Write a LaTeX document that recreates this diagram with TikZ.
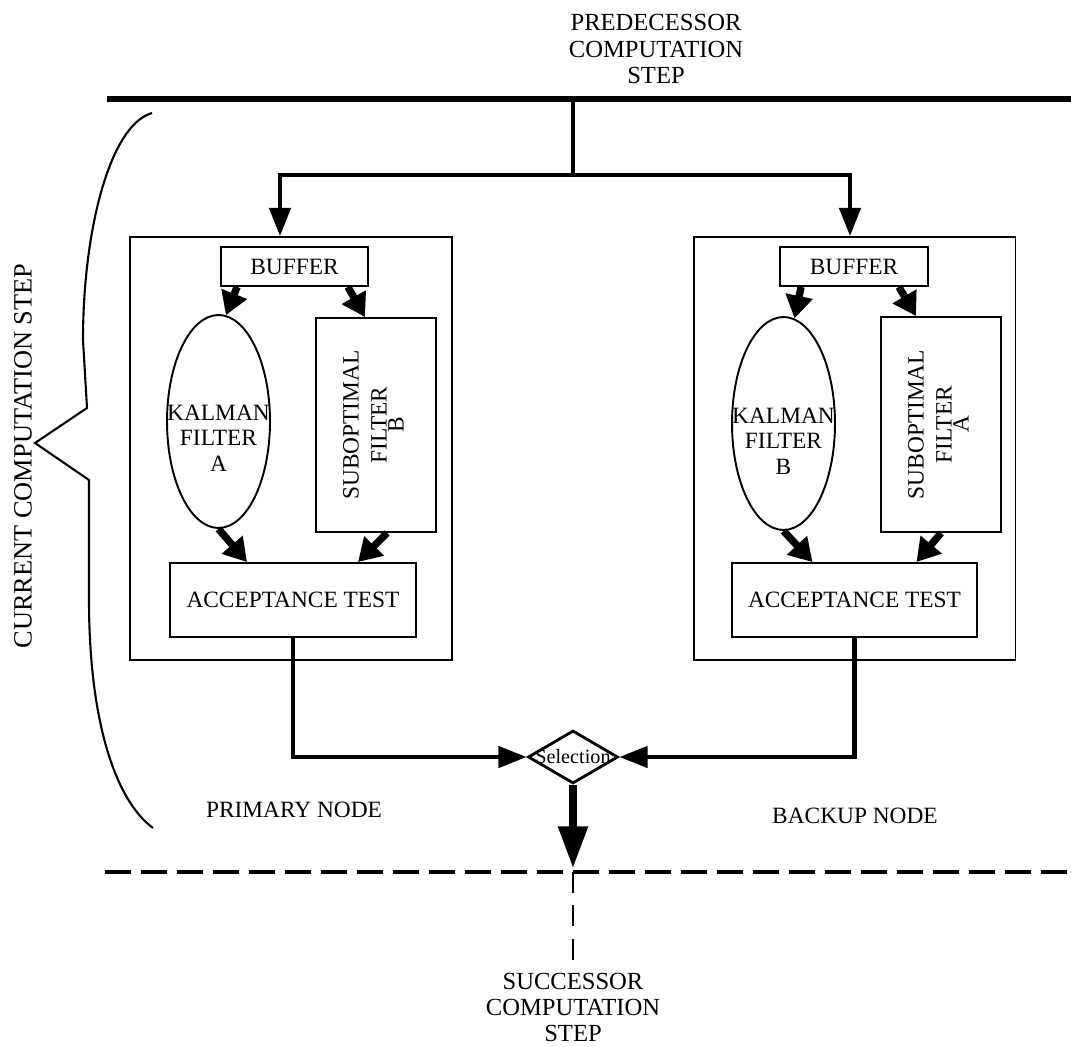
\documentclass[tikz,border=0pt]{standalone}
\usepackage{fontspec}
\setmainfont{Liberation Serif}
\usetikzlibrary{arrows.meta,positioning,shapes.geometric,calc}
\tikzset{
    %Define standard arrow tip
    >={Triangle[length=16pt,width=12pt]},
    %Define style for the two node frames
    nodebox/.style={
           rectangle,
           draw=black, line width=1.1pt,
           minimum width=6.44cm,
           minimum height=8.46cm},
    %Define style for boxes
    box/.style={
           rectangle,
           draw=black, line width=1.1pt,
           inner sep=0pt,
           font=\fontsize{13.3}{14.5}\selectfont},
    kalman/.style={
           ellipse,
           draw=black, line width=1.1pt,
           inner sep=0pt,
           minimum width=2.06cm,
           minimum height=4.26cm},
    selbox/.style={
           diamond,
           draw=black, line width=1.6pt,
           inner sep=0pt,
           minimum width=1.8cm,
           minimum height=1.06cm,
           font=\fontsize{11.5}{12}\selectfont},
    annot/.style={
           align=center,
           font=\fontsize{13.3}{14.5}\selectfont},
    bigannot/.style={
           align=center,
           font=\fontsize{14}{15}\selectfont},
    % Define arrow style
    wire/.style={line width=2.4pt},
    arr/.style={->, line width=2.4pt},
    fatarr/.style={-{Triangle[length=13pt,width=15pt]}, line width=4.2pt},
    outarr/.style={-{Triangle[length=24pt,width=16pt]}, line width=4.6pt},
}

\begin{document}
\begin{tikzpicture}[x=0.02cm,y=-0.02cm]
  \useasboundingbox (0,0) rectangle (1071,1047);

  % predecessor step
  \node[bigannot] (pred) at (656,49) {PREDECESSOR\\COMPUTATION\\STEP};
  \coordinate (barL) at (107,99);
  \coordinate (barR) at (1071,99);
  \coordinate (tap) at (573,99);
  \coordinate (fork) at (573,175);
  \draw[line width=3.4pt] (barL) -- (barR);

  % primary node
  \node[nodebox] (prim) at (291,448.5) {};
  \node[box, minimum width=2.94cm, minimum height=0.78cm] (bufA) at (294.5,266.5) {BUFFER};
  \node[kalman, label={[annot,yshift=-9.5pt]center:KALMAN\\FILTER\\A}] (kalA) at (218.5,421.5) {};
  \node[box, minimum width=2.4cm, minimum height=4.28cm] (subB) at (376,425)
    {\rotatebox{90}{\begin{tabular}{@{}c@{}}SUBOPTIMAL\\[1.5pt]FILTER\\[-4.8pt]B\end{tabular}}};
  \node[box, minimum width=4.92cm, minimum height=1.48cm] (accA) at (293,600) {ACCEPTANCE TEST};
  \node[annot] (primlbl) at (294,809.5) {PRIMARY NODE};

  % backup node
  \node[nodebox] (back) at (854.5,448.5) {};
  \node[box, minimum width=2.96cm, minimum height=0.78cm] (bufB) at (854,266.5) {BUFFER};
  \node[kalman, label={[annot,yshift=-10pt]center:KALMAN\\FILTER\\B}] (kalB) at (783.5,423.5) {};
  \node[box, minimum width=2.4cm, minimum height=4.3cm] (subA) at (941,424.5)
    {\rotatebox{90}{\begin{tabular}{@{}c@{}}SUBOPTIMAL\\[1.5pt]FILTER\\[-4.8pt]A\end{tabular}}};
  \node[box, minimum width=4.9cm, minimum height=1.48cm] (accB) at (854.5,600) {ACCEPTANCE TEST};
  \node[annot] (backlbl) at (855,815.5) {BACKUP NODE};

  % fan out
  \draw[wire] (tap) -- (fork);
  \draw[arr] (fork) -| ($(prim.north)+(-11,0)$);
  \draw[arr] (fork) -| ($(back.north)+(-4.5,0)$);

  \draw[fatarr] ($(bufA.south west)+(17,0)$) -- (kalA.86);
  \draw[fatarr] ($(bufA.south east)+(-21,0)$) -- ($(subB.north)+(-11,0)$);
  \draw[fatarr] (kalA.south) -- ($(accA.north)+(-46,0)$);
  \draw[fatarr] ($(subB.south)+(11,0)$) -- ($(accA.north)+(65,0)$);

  \draw[fatarr] ($(bufB.south west)+(22,0)$) -- (kalB.84);
  \draw[fatarr] ($(bufB.south east)+(-30,0)$) -- ($(subA.north)+(-25,0)$);
  \draw[fatarr] (kalB.south) -- ($(accB.north)+(-42,0)$);
  \draw[fatarr] (subA.south) -- ($(accB.north)+(62,0)$);

  % selection
  \node[selbox] (sel) at (573,757) {\makebox[0pt]{Selection}};
  \draw[arr] (accA.south) |- (sel.west);
  \draw[arr] (accB.south) |- (sel.east);

  % successor step
  \coordinate (dashL) at (105,872);
  \coordinate (dashR) at (1071,872);
  \coordinate (succtap) at (573,872);
  \draw[line width=2.8pt, dash pattern=on 14.8pt off 5.7pt] (dashL) -- (dashR);
  \draw[outarr] (sel.south) -- ([yshift=2pt]succtap);
  \node[bigannot] (succ) at (573,1007.5) {SUCCESSOR\\COMPUTATION\\STEP};
  \draw[line width=0.8pt, dash pattern=on 12pt off 7pt] (succtap) -- (succ.north);

  % current step brace
  \draw[line width=1.2pt] (152,113) .. controls (110,125) and (83,230) .. (83,340)
    -- (87,408) -- (35,443) -- (89,480) -- (89,600)
    .. controls (89,720) and (115,800) .. (153,828);
  \node[rotate=90, font=\fontsize{15}{16}\selectfont] (curstep) at (23,456) {CURRENT COMPUTATION STEP};
\end{tikzpicture}
\end{document}
